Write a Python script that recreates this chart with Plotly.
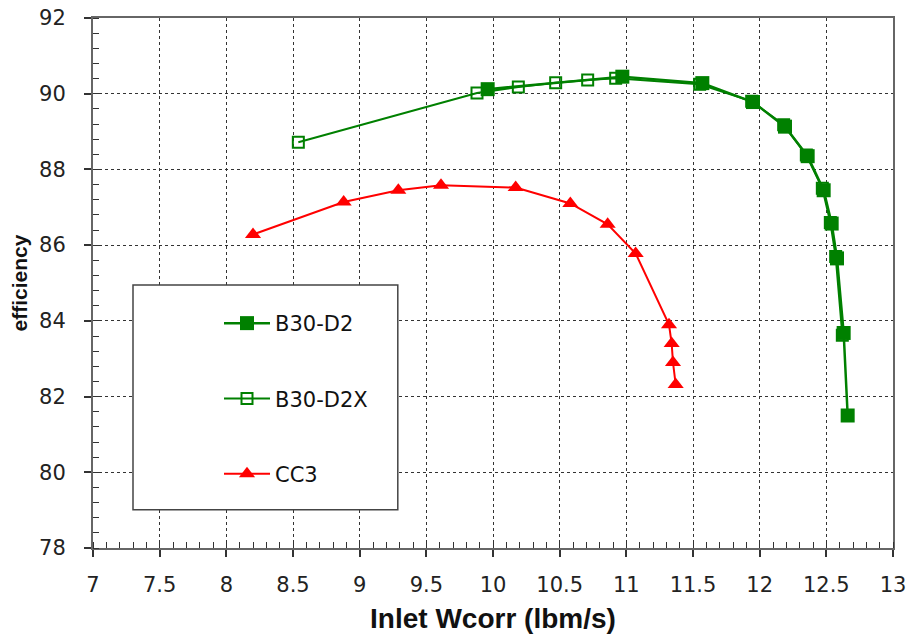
import plotly.graph_objects as go

# ---- data ----
b30_d2_x = [9.96, 10.97, 11.57, 11.95, 12.19, 12.36, 12.48, 12.54, 12.58, 12.63, 12.66]
b30_d2_y = [90.12, 90.45, 90.28, 89.78, 89.13, 88.35, 87.45, 86.57, 85.65, 83.68, 81.50]

b30_d2x_x = [8.54, 9.88, 10.19, 10.47, 10.71, 10.92, 11.55, 11.94, 12.18, 12.35, 12.47, 12.53, 12.57, 12.62]
b30_d2x_y = [88.72, 90.02, 90.18, 90.29, 90.36, 90.41, 90.25, 89.80, 89.18, 88.38, 87.50, 86.60, 85.70, 83.62]

cc3_x = [8.20, 8.88, 9.29, 9.61, 10.17, 10.58, 10.86, 11.07, 11.32, 11.34, 11.35, 11.37]
cc3_y = [86.28, 87.14, 87.45, 87.58, 87.52, 87.10, 86.55, 85.78, 83.90, 83.40, 82.90, 82.32]

x_ticks = [7, 7.5, 8, 8.5, 9, 9.5, 10, 10.5, 11, 11.5, 12, 12.5, 13]
x_tick_text = ["7", "7.5", "8", "8.5", "9", "9.5", "10", "10.5", "11", "11.5", "12", "12.5", "13"]
y_ticks = [78, 80, 82, 84, 86, 88, 90, 92]

GREEN = "#008000"
RED = "#FF0000"
TICKFONT = dict(family="DejaVu Sans, Liberation Sans, Arial", size=21, color="#222222")

fig = go.Figure()
fig.add_trace(go.Scatter(
    x=b30_d2x_x, y=b30_d2x_y, name="B30-D2X", mode="lines+markers",
    line=dict(color=GREEN, width=2),
    marker=dict(symbol="square-open", size=11, color=GREEN, line=dict(width=2, color=GREEN)),
    legendgroup="b", legendrank=2,
))
fig.add_trace(go.Scatter(
    x=b30_d2_x, y=b30_d2_y, name="B30-D2", mode="lines+markers",
    line=dict(color=GREEN, width=2.5),
    marker=dict(symbol="square", size=14, color=GREEN),
    legendgroup="a", legendrank=1,
))
fig.add_trace(go.Scatter(
    x=cc3_x, y=cc3_y, name="CC3", mode="lines+markers",
    line=dict(color=RED, width=2),
    marker=dict(symbol="triangle-up", size=14, color=RED),
    legendgroup="c", legendrank=3,
))

fig.update_layout(
    width=907, height=634,
    margin=dict(l=93, r=14, t=18, b=86),
    paper_bgcolor="white", plot_bgcolor="white",
    font=dict(family="DejaVu Sans, Liberation Sans, Arial", color="#222222"),
    showlegend=True,
    legend=dict(
        x=0.1575, y=0.4623, xanchor="left", yanchor="top",
        bgcolor="rgba(0,0,0,0)", borderwidth=0,
        font=dict(family="DejaVu Sans, Liberation Sans, Arial", size=21, color="#111111"),
        tracegroupgap=45, itemwidth=46, traceorder="grouped",
    ),
    shapes=[dict(
        type="rect", xref="paper", yref="paper",
        x0=0.05, x1=0.381, y0=0.072, y1=0.496,
        line=dict(color="#444444", width=1.5), fillcolor="white", layer="above",
    )],
)

fig.update_xaxes(
    range=[7, 13], tickvals=x_ticks, ticktext=x_tick_text, automargin=False,
    showgrid=True, gridcolor="#333333", griddash="dot", gridwidth=1.3,
    showline=True, linecolor="#666666", linewidth=2, mirror=True,
    ticks="outside", ticklen=7, tickcolor="#333333", tickwidth=1.5,
    minor=dict(dtick=0.1, ticks="inside", ticklen=6, tickcolor="#333333", tickwidth=1, showgrid=False),
    tickfont=TICKFONT, zeroline=False, ticklabelstandoff=10,
    title=dict(text="<b>Inlet Wcorr (lbm/s)</b>", font=dict(family="Liberation Sans, Arial", size=28, color="#111111"), standoff=12),
)
fig.update_yaxes(
    range=[78, 92], tickvals=y_ticks, automargin=False,
    showgrid=True, gridcolor="#333333", griddash="dot", gridwidth=1.3,
    showline=True, linecolor="#666666", linewidth=2, mirror=True,
    ticks="outside", ticklen=7, tickcolor="#333333", tickwidth=1.5,
    minor=dict(dtick=0.4, tick0=78, ticks="inside", ticklen=6, tickcolor="#333333", tickwidth=1, showgrid=False),
    tickfont=TICKFONT, zeroline=False, ticklabelstandoff=14,
    title=dict(text="<b>efficiency</b>", font=dict(family="Liberation Sans, Arial", size=21, color="#111111"), standoff=6),
)

fig.write_html("out.html", config={"displayModeBar": False}, post_script="document.body.style.margin='0';")
